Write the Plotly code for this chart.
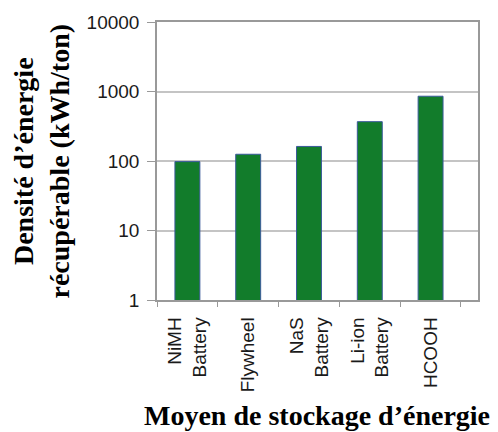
import plotly.graph_objects as go

categories = ["NiMH<br>Battery", "Flywheel", "NaS<br>Battery", "Li-ion<br>Battery", "HCOOH"]
values = [98, 125, 162, 368, 855]
y_tickvals = [1, 10, 100, 1000, 10000]
y_ticktext = ["1", "10", "100", "1000", "10000"]
y_title = "Densité d’énergie<br>récupérable (kWh/ton)"
x_title = "Moyen de stockage d’énergie"

sans = "Liberation Sans, Arial, sans-serif"
serif = "Liberation Serif, Times New Roman, serif"

# page content is offset by the 8px body margin
OFF = 8
W, H = 498 - OFF, 432 - OFF
L, R, T, B = 157 - OFF, 20, 22 - OFF, 132
PW = W - L - R
PH = H - T - B

fig = go.Figure()
fig.add_trace(go.Bar(
    x=categories, y=values, width=0.41,
    marker=dict(color="#127c2b", line=dict(color="#3a5a9a", width=1)),
))

fig.update_layout(
    width=W, height=H,
    margin=dict(l=L, r=R, t=T, b=B, pad=0),
    paper_bgcolor="white", plot_bgcolor="white",
    showlegend=False,
    xaxis=dict(
        range=[-0.5, 4.78], tickangle=-90,
        tickfont=dict(family=sans, size=19, color="#1a1a1a"),
        ticks="outside", tickson="boundaries", ticklen=5, tickcolor="#999999",
        showline=True, linecolor="#999999", linewidth=1.5, mirror=True,
        showgrid=False, ticklabelstandoff=8, automargin=False,
    ),
    yaxis=dict(
        type="log", range=[0, 4],
        tickvals=y_tickvals, ticktext=y_ticktext,
        tickfont=dict(family=sans, size=19, color="#1a1a1a"),
        ticks="outside", ticklen=8, tickcolor="#999999",
        showline=True, linecolor="#999999", linewidth=1.5, mirror=True,
        showgrid=True, gridcolor="#c4c4c4", gridwidth=1.5,
        ticklabelstandoff=4, zeroline=False, automargin=False,
    ),
    annotations=[
        dict(text=y_title, xref="paper", yref="paper",
             x=(40.5 - 157) / PW, y=0.5, xanchor="center", yanchor="middle",
             textangle=-90, showarrow=False,
             font=dict(family=serif, size=28, color="black", weight="bold")),
        dict(text=x_title, xref="paper", yref="paper",
             x=(317 - 157) / PW, y=(300 - 415) / PH, xanchor="center", yanchor="middle",
             showarrow=False,
             font=dict(family=serif, size=28, color="black", weight="bold")),
    ],
)

fig.write_html("out.html")
